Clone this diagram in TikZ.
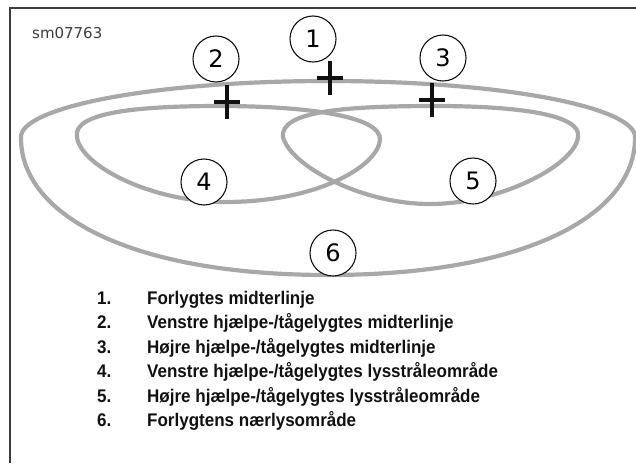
\documentclass[tikz,border=0pt]{standalone}
\usepackage{fontspec}
\usetikzlibrary{positioning}
\newfontfamily\legendfont[FakeStretch=0.93]{Liberation Sans Bold}
\newfontfamily\calloutfont{DejaVu Sans}
\definecolor{BeamGray}{RGB}{168,168,168}
\definecolor{FrameGray}{RGB}{60,60,60}
\definecolor{InkBlack}{RGB}{17,17,17}
\tikzset{
  beam/.style={draw=BeamGray,line width=4.2pt,line cap=round,line join=round},
  frameline/.style={draw=FrameGray,line width=1.6pt},
  crossmark/.style={draw=InkBlack,line width=4pt},
  callout/.style={circle,draw=InkBlack,fill=white,line width=1.1pt,
    minimum size=46pt,inner sep=0pt,font=\calloutfont\fontsize{24}{24}\selectfont},
  legnum/.style={anchor=base west,inner sep=0pt,text=InkBlack,
    font=\legendfont\fontsize{18.3}{22}\selectfont},
  legtext/.style={anchor=base west,inner sep=0pt,text=InkBlack,
    font=\legendfont\fontsize{18.3}{22}\selectfont},
  tag/.style={anchor=base west,inner sep=0pt,text=FrameGray,
    font=\calloutfont\fontsize{15}{16}\selectfont}
}
\begin{document}
\begin{tikzpicture}[x=1pt,y=-1pt]
  \useasboundingbox (0,0) rectangle (636,463);
  % frame
  \draw[frameline] (10,463) -- (10,8) -- (636,8);
  \node[tag] (tag) at (32,38) {sm07763};
  % low beam area
  \draw[beam] (21,138) .. controls (18,108) and (150,81) .. (328,81)
    .. controls (506,81) and (638,108) .. (635,138)
    .. controls (635,215) and (526,275) .. (328,275)
    .. controls (130,275) and (21,215) .. (21,138) -- cycle;
  % left fog lamp area
  \draw[beam] (77,137) .. controls (72,112) and (140,106) .. (220,106)
    .. controls (300,106) and (382,115) .. (380,140)
    .. controls (378,165) and (320,202) .. (225,202)
    .. controls (150,202) and (80,165) .. (77,137) -- cycle;
  % right fog lamp area
  \draw[beam] (283,137) .. controls (280,112) and (340,106) .. (435,106)
    .. controls (520,106) and (582,115) .. (578,137)
    .. controls (575,165) and (500,204) .. (430,204)
    .. controls (360,204) and (290,165) .. (283,137) -- cycle;
  % center lines
  \draw[crossmark] (317,78) -- (343,78) (330,61) -- (330,95);
  \draw[crossmark] (214,102) -- (240,102) (227,85) -- (227,119);
  \draw[crossmark] (419,100) -- (445,100) (432,83) -- (432,117);
  % callouts
  \node[callout] (c1) at (313,39) {1};
  \node[callout] (c2) at (216,59) {2};
  \node[callout] (c3) at (443,58) {3};
  \node[callout] (c4) at (204,182) {4};
  \node[callout] (c5) at (473,181) {5};
  \node[callout] (c6) at (333,253) {6};
  % legend
  \node[legnum] (num1) at (97,304) {1.};
  \node[legnum] (num2) at (97,328.5) {2.};
  \node[legnum] (num3) at (97,353) {3.};
  \node[legnum] (num4) at (97,377.5) {4.};
  \node[legnum] (num5) at (97,402) {5.};
  \node[legnum] (num6) at (97,426.5) {6.};
  \node[legtext] (txt1) at (147,304) {Forlygtes midterlinje};
  \node[legtext] (txt2) at (147,328.5) {Venstre hjælpe-/tågelygtes midterlinje};
  \node[legtext] (txt3) at (147,353) {Højre hjælpe-/tågelygtes midterlinje};
  \node[legtext] (txt4) at (147,377.5) {Venstre hjælpe-/tågelygtes lysstråleområde};
  \node[legtext] (txt5) at (147,402) {Højre hjælpe-/tågelygtes lysstråleområde};
  \node[legtext] (txt6) at (147,426.5) {Forlygtens nærlysområde};
\end{tikzpicture}
\end{document}
